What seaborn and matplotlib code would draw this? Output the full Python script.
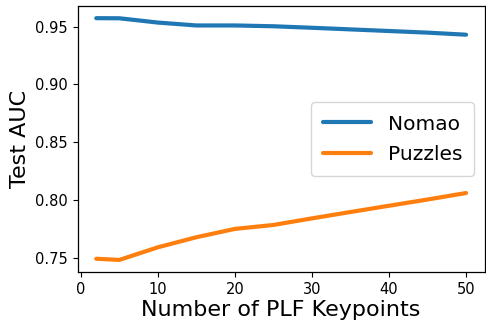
import matplotlib
matplotlib.use("Agg")
import matplotlib.pyplot as plt
import seaborn as sns
import pandas as pd

keypoints = [2, 5, 10, 15, 20, 25, 30, 35, 40, 45, 50]
nomao = [0.9573, 0.9572, 0.9535, 0.9510, 0.9510, 0.9503, 0.9490, 0.9476, 0.9462, 0.9448, 0.9430]
puzzles = [0.7494, 0.7484, 0.7593, 0.7680, 0.7752, 0.7786, 0.7843, 0.7898, 0.7952, 0.8006, 0.8062]

df = pd.concat([
    pd.DataFrame({"k": keypoints, "auc": nomao, "dataset": "Nomao"}),
    pd.DataFrame({"k": keypoints, "auc": puzzles, "dataset": "Puzzles"}),
])

sns.set_style("ticks")
plt.rcParams['font.family'] = ['DejaVu Sans']
plt.rcParams['text.color'] = 'black'
plt.rcParams['axes.labelcolor'] = 'black'
plt.rcParams['xtick.color'] = 'black'
plt.rcParams['ytick.color'] = 'black'
fig, ax = plt.subplots(figsize=(4.86, 3.2), dpi=100)
sns.lineplot(data=df, x="k", y="auc", hue="dataset", palette=["#1f77b4", "#ff7f0e"],
             linewidth=3, ax=ax)
ax.set_xlabel("Number of PLF Keypoints", fontsize=16, labelpad=2)
ax.set_ylabel("Test AUC", fontsize=16, labelpad=4)
ax.tick_params(labelsize=10.5, direction="out", length=3.5, color="black", labelcolor="black")
ax.set_xticks([0, 10, 20, 30, 40, 50])
ax.set_yticks([0.75, 0.80, 0.85, 0.90, 0.95])
for s in ax.spines.values():
    s.set_color("black")
    s.set_linewidth(0.9)
leg = ax.legend(fontsize=14.5, loc="center right", handlelength=2.35,
                handletextpad=0.85, borderpad=0.6, labelspacing=0.55)
fig.subplots_adjust(left=0.160, right=0.997, top=0.981, bottom=0.15)
fig.savefig("out.png", dpi=100)
